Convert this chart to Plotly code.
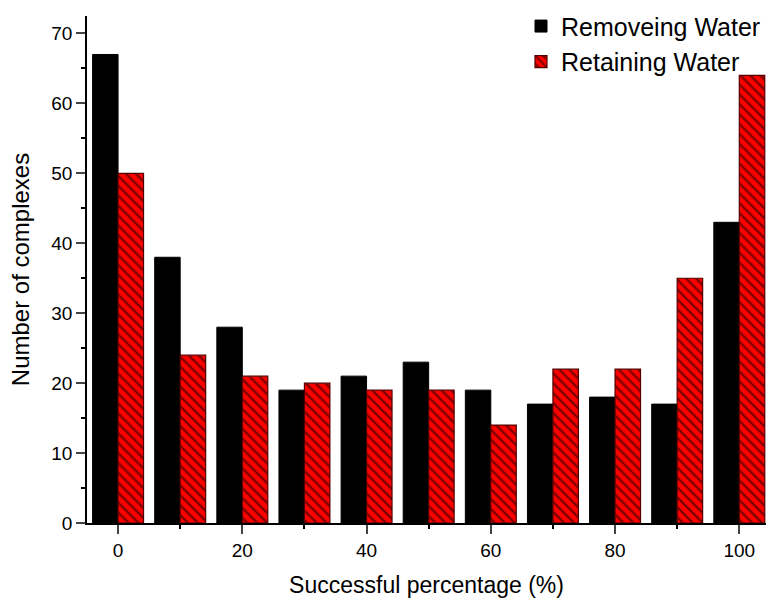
import plotly.graph_objects as go

x_vals = [0, 10, 20, 30, 40, 50, 60, 70, 80, 90, 100]
removing = [67, 38, 28, 19, 21, 23, 19, 17, 18, 17, 43]
retaining = [50, 24, 21, 20, 19, 19, 14, 22, 22, 35, 64]
x_ticks = [0, 20, 40, 60, 80, 100]
y_ticks = [0, 10, 20, 30, 40, 50, 60, 70]

font = "Liberation Sans, Arial, sans-serif"

fig = go.Figure()
fig.add_trace(go.Bar(
    x=x_vals, y=removing, name="Removeing Water",
    marker=dict(color="black", line=dict(color="black", width=1)),
))
fig.add_trace(go.Bar(
    x=x_vals, y=retaining, name="Retaining Water",
    marker=dict(color="#ff0000", line=dict(color="#550000", width=1.2),
                pattern=dict(shape="\\", fillmode="overlay", fgcolor="black",
                             bgcolor="#ff0000", size=7, solidity=0.35)),
))

fig.update_layout(
    width=768, height=603,
    margin=dict(l=87, r=2, t=16, b=80, autoexpand=False),
    paper_bgcolor="white", plot_bgcolor="white",
    barmode="group", bargap=0.18, bargroupgap=0,
    font=dict(family=font, color="black", size=19),
    showlegend=True,
    legend=dict(x=1.0, y=1.025, xanchor="right", yanchor="top",
                font=dict(size=25, family=font), bgcolor="rgba(0,0,0,0)",
                itemwidth=30, tracegroupgap=0),
)
fig.update_xaxes(
    range=[-5, 104.3], tickvals=x_ticks, ticks="outside", ticklen=9, tickwidth=1.5,
    showline=True, linecolor="black", linewidth=1.5, showgrid=False, zeroline=False,
    minor=dict(dtick=10, tick0=0, ticks="outside", ticklen=4, tickcolor="black"),
    tickfont=dict(size=19), title=dict(text="Successful percentage (%)", font=dict(size=23), standoff=17),
)
fig.update_yaxes(
    range=[0, 72.5], tickvals=y_ticks, ticks="outside", ticklen=9, tickwidth=1.5,
    showline=True, linecolor="black", linewidth=1.5, showgrid=False, zeroline=False,
    minor=dict(dtick=5, tick0=0, ticks="outside", ticklen=4, tickcolor="black"),
    tickfont=dict(size=19), title=dict(text="Number of complexes", font=dict(size=24), standoff=15),
)

fig.write_html("out.html")
